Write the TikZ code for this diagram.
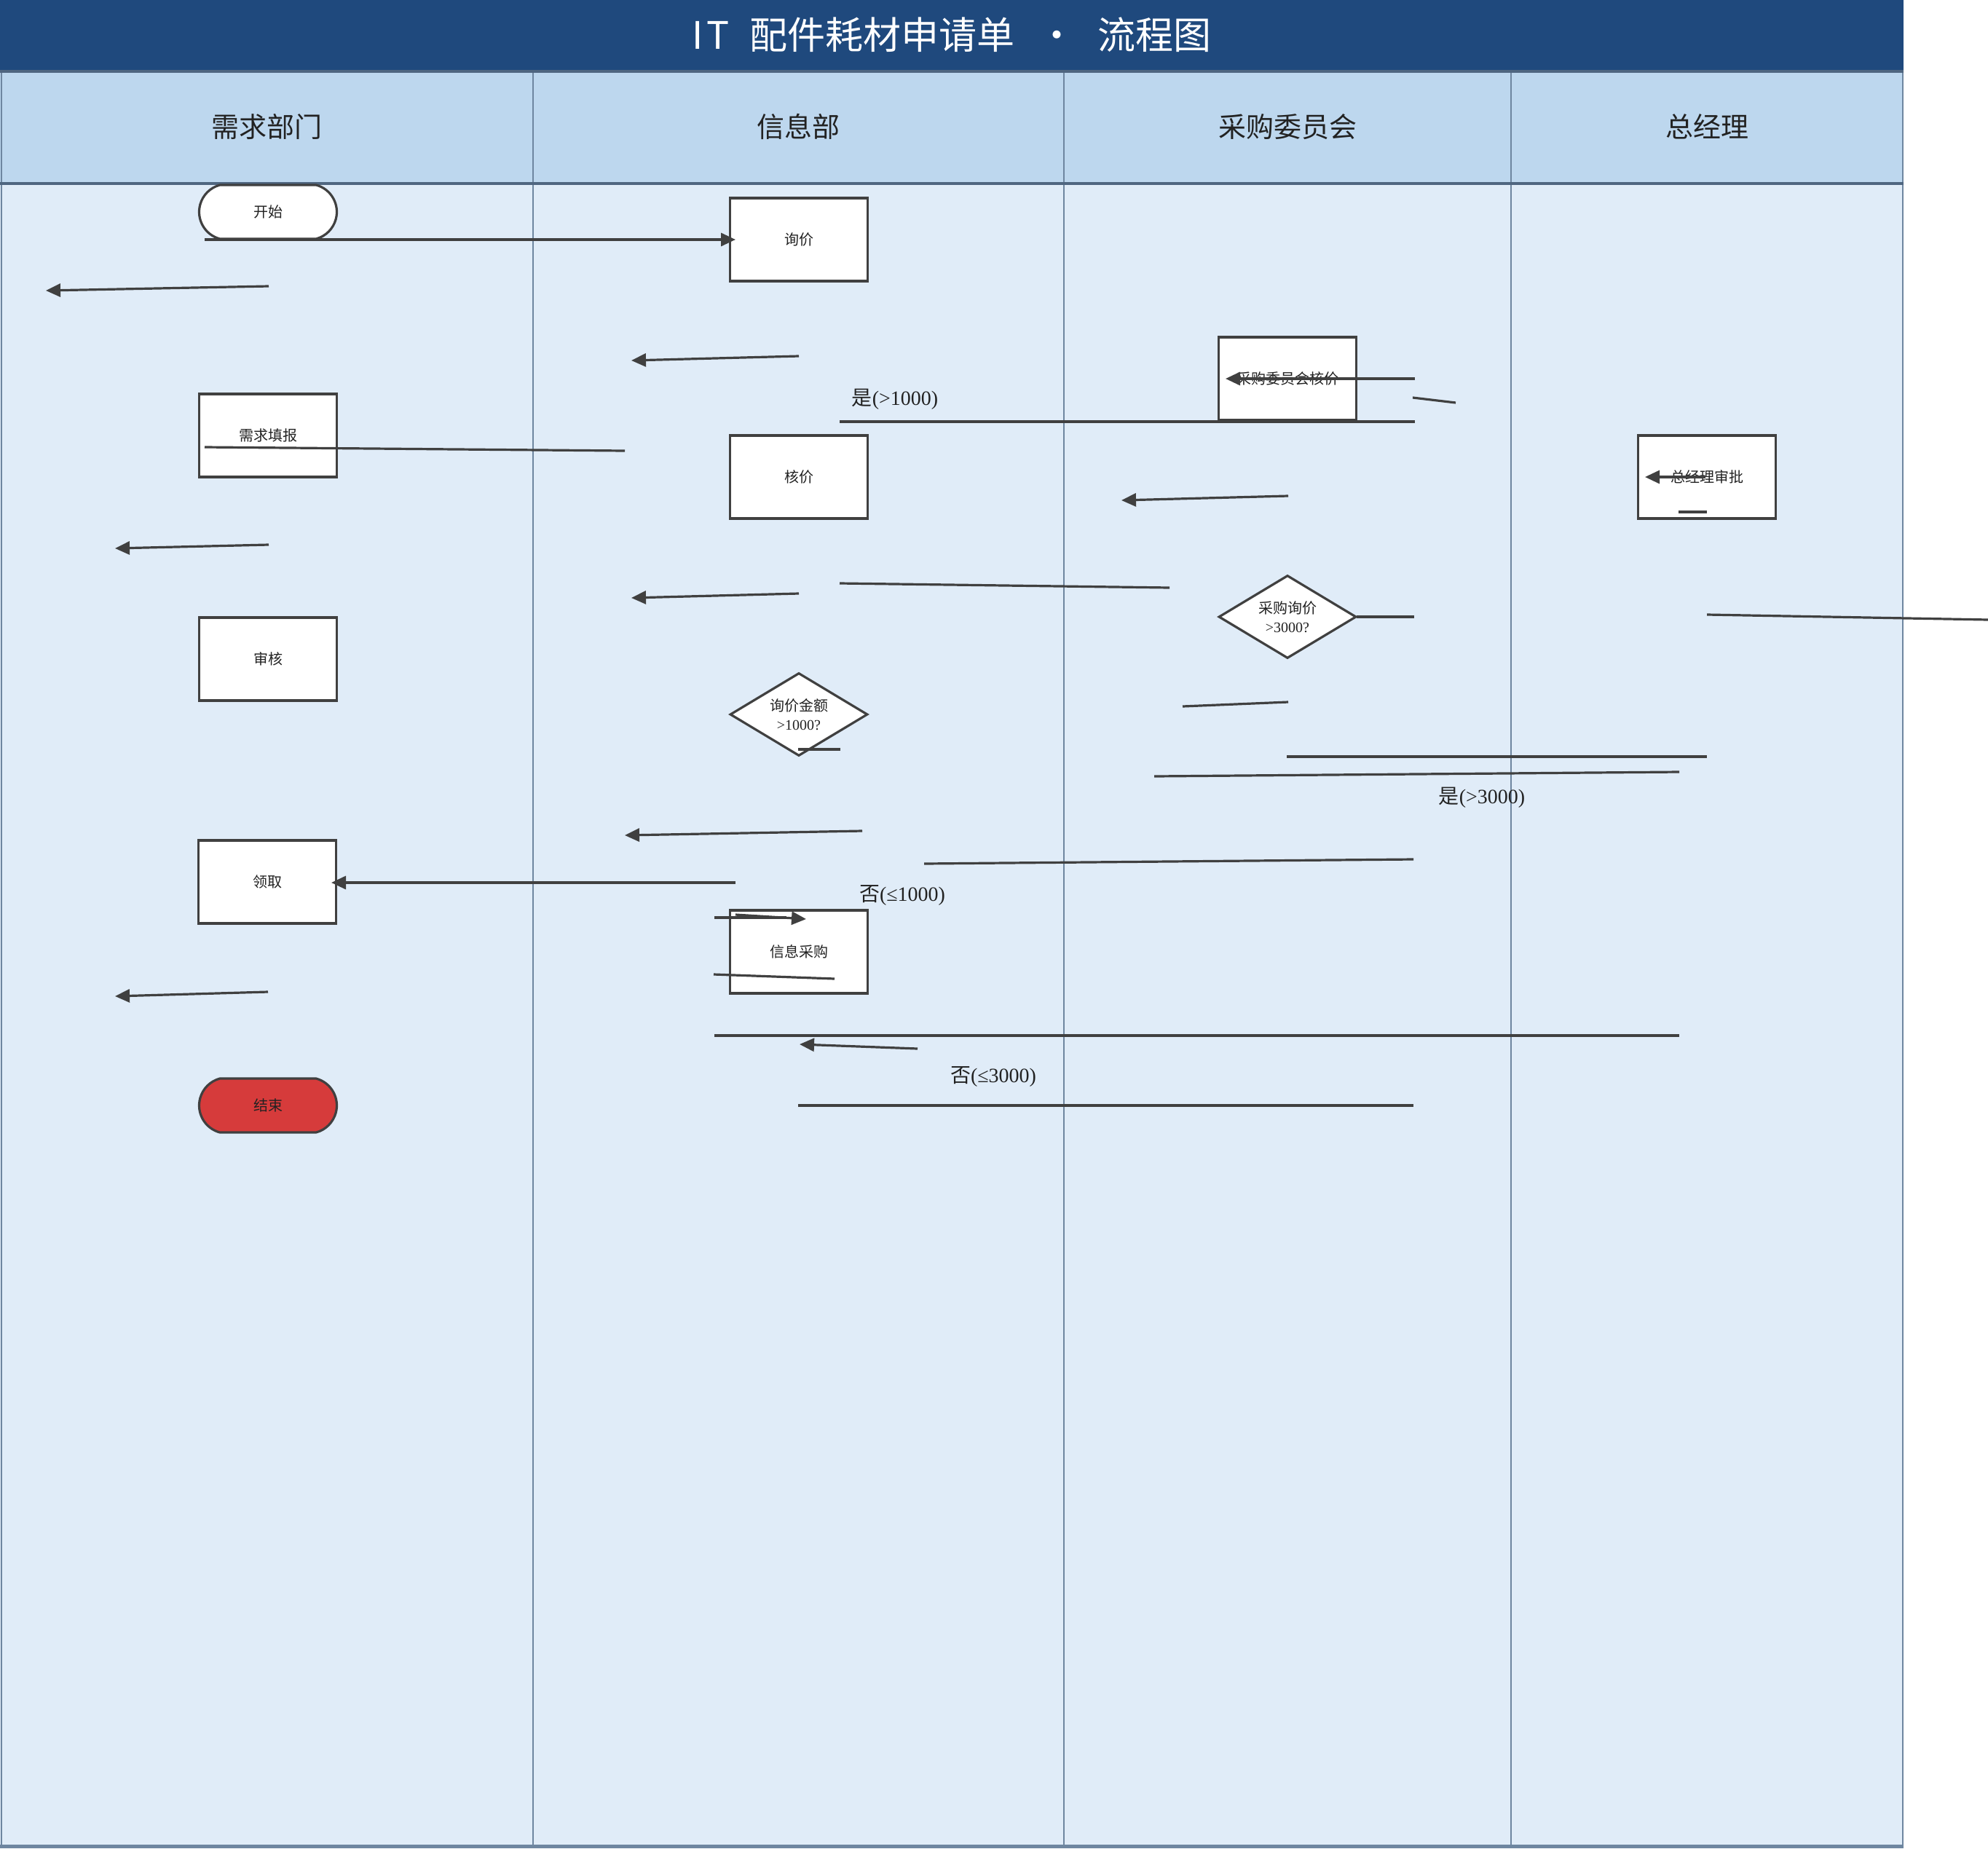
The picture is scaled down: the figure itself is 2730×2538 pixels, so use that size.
\documentclass[tikz,border=0pt]{standalone}
\usepackage{fontspec}
\setmainfont{Liberation Serif}
\newfontfamily\cjk{Noto Sans CJK SC}
\usetikzlibrary{arrows.meta,shapes.geometric,shapes.misc}
\definecolor{titleblue}{HTML}{1F497D}
\definecolor{headblue}{HTML}{BDD7EE}
\definecolor{laneblue}{HTML}{E0ECF8}
\definecolor{laneline}{HTML}{6E86A0}
\definecolor{headline}{HTML}{4F6680}
\definecolor{nodeline}{HTML}{404040}
\definecolor{endred}{HTML}{D63B3B}
\definecolor{txt}{HTML}{222222}
\tikzset{
  box/.style={draw=nodeline, line width=3.2pt, fill=white, minimum width=189pt, minimum height=114pt, inner sep=0pt, font=\cjk\fontsize{20}{26}\selectfont, text=txt, align=center},
  term/.style={box, rounded rectangle, rounded rectangle arc length=150, minimum height=74pt},
  decis/.style={draw=nodeline, line width=3.2pt, fill=white, diamond, aspect=1.66, minimum width=189pt, minimum height=114pt, inner sep=0pt, font=\fontsize{20}{26}\selectfont, text=txt, align=center},
  conn/.style={draw=nodeline, line width=3.2pt},
  arr/.style={conn, -{Triangle[length=20pt,width=18pt]}},
  lanetitle/.style={font=\cjk\fontsize{38}{44}\selectfont, text=txt},
  lbl/.style={font=\fontsize{28}{32}\selectfont, text=txt, inner sep=0pt},
}
\begin{document}
\begin{tikzpicture}[x=1pt,y=-1pt]
\useasboundingbox (0,0) rectangle (2730,2538);
% lanes
\fill[laneblue] (0,252) rectangle (2614,2535);
\fill[headblue] (0,98) rectangle (2614,252);
\fill[titleblue] (0,0) rectangle (2614,98);
\foreach \xx in {2,732,1461,2075,2613} \draw[laneline, line width=2.5pt] (\xx,98) -- (\xx,2535);
\draw[headline, line width=4pt] (0,98) -- (2614,98);
\draw[headline, line width=4pt] (0,252) -- (2614,252);
\draw[laneline, line width=5pt] (0,2535) -- (2614,2535);
\node[font=\cjk\fontsize{52}{60}\selectfont, text=white] (title) at (1307,48) {I\hspace{4pt}T\hspace{28pt}配件耗材申请单\hspace{32pt}·\hspace{30pt}流程图};
\node[lanetitle] (h1) at (366,174) {需求部门};
\node[lanetitle] (h2) at (1096,174) {信息部};
\node[lanetitle] (h3) at (1768,174) {采购委员会};
\node[lanetitle] (h4) at (2344,174) {总经理};
% nodes
\node[term] (start) at (368,291) {开始};
\node[box] (q) at (1097,329) {询价};
\node[box] (need) at (368,598) {需求填报};
\node[box] (cwh) at (1768,520) {采购委员会核价};
\node[box] (hj) at (1097,655) {核价};
\node[box] (gm) at (2344,655) {总经理审批};
\node[box] (sh) at (368,905) {审核};
\node[decis] (cd) at (1768,847) {{\cjk 采购询价}\\>3000?};
\node[decis] (xd) at (1097,981) {{\cjk 询价金额}\\>1000?};
\node[box] (lq) at (367,1211) {领取};
\node[box] (xc) at (1097,1307) {信息采购};
\node[term, fill=endred] (end) at (368,1518) {结束};
% labels
\node[lbl] (y1) at (1229,548) {{\cjk 是}(>1000)};
\node[lbl] (y2) at (2035,1095) {{\cjk 是}(>3000)};
\node[lbl] (n1) at (1239,1230) {{\cjk 否}(≤1000)};
\node[lbl] (n2) at (1364,1478) {{\cjk 否}(≤3000)};
% connector end points
\coordinate (p1a) at (281,329);   \coordinate (p1b) at (1010,329);
\coordinate (p2a) at (369,393);   \coordinate (p2b) at (63,399);
\coordinate (p3a) at (1097,489);  \coordinate (p3b) at (867,495);
\coordinate (p4a) at (1153,579);  \coordinate (p4b) at (1943,579);
\coordinate (p5a) at (1943,520);  \coordinate (p5b) at (1683,520);
\coordinate (p6a) at (1940,546);  \coordinate (p6b) at (1999,553);
\coordinate (p7a) at (281,614);   \coordinate (p7b) at (858,619);
\coordinate (p8a) at (1769,681);  \coordinate (p8b) at (1540,687);
\coordinate (p9a) at (2342,655);  \coordinate (p9b) at (2259,655);
\coordinate (p10a) at (2305,703); \coordinate (p10b) at (2344,703);
\coordinate (p11a) at (369,748);  \coordinate (p11b) at (158,753);
\coordinate (p12a) at (1153,801); \coordinate (p12b) at (1606,807);
\coordinate (p13a) at (1097,815); \coordinate (p13b) at (867,821);
\coordinate (p14a) at (1863,847); \coordinate (p14b) at (1942,847);
\coordinate (p15a) at (2344,844); \coordinate (p15b) at (2730,851);
\coordinate (p16a) at (1096,1029);\coordinate (p16b) at (1154,1029);
\coordinate (p17a) at (1624,970); \coordinate (p17b) at (1769,964);
\coordinate (p18a) at (1767,1039);\coordinate (p18b) at (2344,1039);
\coordinate (p19a) at (1585,1066);\coordinate (p19b) at (2306,1060);
\coordinate (p20a) at (1184,1141);\coordinate (p20b) at (858,1147);
\coordinate (p21a) at (1269,1186);\coordinate (p21b) at (1941,1180);
\coordinate (p22a) at (1010,1212);\coordinate (p22b) at (455,1212);
\coordinate (p23a) at (981,1260); \coordinate (p23b) at (1080,1260);
\coordinate (p24a) at (1010,1256);\coordinate (p24b) at (1107,1262);
\coordinate (p25a) at (980,1338); \coordinate (p25b) at (1146,1344);
\coordinate (p26a) at (368,1362); \coordinate (p26b) at (158,1368);
\coordinate (p27a) at (981,1422); \coordinate (p27b) at (2306,1422);
\coordinate (p28a) at (1260,1440);\coordinate (p28b) at (1098,1434);
\coordinate (p29a) at (1096,1518);\coordinate (p29b) at (1941,1518);
% connectors
\draw[arr] (p1a) -- (p1b);
\draw[arr] (p2a) -- (p2b);
\draw[arr] (p3a) -- (p3b);
\draw[conn] (p4a) -- (p4b);
\draw[arr] (p5a) -- (p5b);
\draw[conn] (p6a) -- (p6b);
\draw[conn] (p7a) -- (p7b);
\draw[arr] (p8a) -- (p8b);
\draw[arr] (p9a) -- (p9b);
\draw[conn] (p10a) -- (p10b);
\draw[arr] (p11a) -- (p11b);
\draw[conn] (p12a) -- (p12b);
\draw[arr] (p13a) -- (p13b);
\draw[conn] (p14a) -- (p14b);
\draw[conn] (p15a) -- (p15b);
\draw[conn] (p16a) -- (p16b);
\draw[conn] (p17a) -- (p17b);
\draw[conn] (p18a) -- (p18b);
\draw[conn] (p19a) -- (p19b);
\draw[arr] (p20a) -- (p20b);
\draw[conn] (p21a) -- (p21b);
\draw[arr] (p22a) -- (p22b);
\draw[conn] (p23a) -- (p23b);
\draw[arr] (p24a) -- (p24b);
\draw[conn] (p25a) -- (p25b);
\draw[arr] (p26a) -- (p26b);
\draw[conn] (p27a) -- (p27b);
\draw[arr] (p28a) -- (p28b);
\draw[conn] (p29a) -- (p29b);
\end{tikzpicture}
\end{document}
